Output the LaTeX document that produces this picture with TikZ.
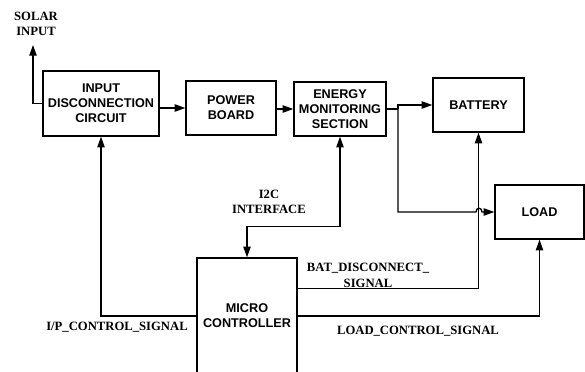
\documentclass[tikz,border=0pt]{standalone}
\usepackage{fontspec}
\setmainfont{Liberation Serif}
\newfontfamily\boxfont{Liberation Sans}
\usetikzlibrary{arrows.meta}
\begin{document}
\begin{tikzpicture}[x=0.75pt,y=-0.75pt,
  box/.style={draw, line width=1pt, align=center, inner sep=0pt,
    font=\boxfont\bfseries\fontsize{9.5}{11.3}\selectfont},
  lbl/.style={align=center, inner sep=0pt,
    font=\bfseries\fontsize{9.5}{11.6}\selectfont},
  conn/.style={line width=1pt},
  arr/.style={conn, -{Triangle[length=8pt,width=5.5pt]}},
  arrboth/.style={conn, {Triangle[length=8pt,width=5.5pt]}-{Triangle[length=8pt,width=5.5pt]}},
  ]
\clip (0,0) rectangle (585,371);
% boxes
\node[box, minimum width={116*0.75pt}, minimum height={65*0.75pt}] (idc) at (101,103.5) {INPUT\\DISCONNECTION\\CIRCUIT};
\node[box, minimum width={90*0.75pt}, minimum height={54*0.75pt}] (pb) at (231,108) {POWER\\BOARD};
\node[box, minimum width={92*0.75pt}, minimum height={54*0.75pt}] (ems) at (340,109) {ENERGY\\MONITORING\\SECTION};
\node[box, minimum width={91*0.75pt}, minimum height={54*0.75pt}] (bat) at (478.5,105) {BATTERY};
\node[box, minimum width={89*0.75pt}, minimum height={54*0.75pt}] (load) at (539.5,212) {LOAD};
\node[box, minimum width={100*0.75pt}, minimum height={116*0.75pt}] (mcu) at (247,316) {MICRO\\CONTROLLER};
% labels
\node[lbl] (solar) at (36,24) {SOLAR\\INPUT};
\node[lbl] (i2c) at (269,202) {I2C\\INTERFACE};
\node[lbl] (batsig) at (368,275.5) {BAT\_DISCONNECT\_\\SIGNAL};
\node[lbl] (ipsig) at (117,327) {I/P\_CONTROL\_SIGNAL};
\node[lbl] (loadsig) at (418,331) {LOAD\_CONTROL\_SIGNAL};
% connectors
\coordinate (solartip) at (33,45);
\draw[arr] (idc.west) -| (solartip);
\draw[arr] (idc.east |- pb) -- (pb);
\draw[arr] (pb.east |- ems) -- (ems);
\coordinate (j) at (398,109);
\draw[conn] (ems.east) -- (j);
\draw[arr] (j) |- (bat.west);
\coordinate (hopa) at (476,212);
\coordinate (hopb) at (482,212);
\draw[arr] (j) |- (hopa) .. controls (476,207) and (482,207) .. (hopb) -- (load.west);
\draw[arrboth] (ems.south) -- ++(0,90) -| (mcu.north);
\draw[arr] (mcu.west) -| (idc.south);
\draw[arr] (mcu.north east) ++(0,31) -| (bat.south);
\draw[arr] (mcu.east) -| (load.south);
\end{tikzpicture}
\end{document}
